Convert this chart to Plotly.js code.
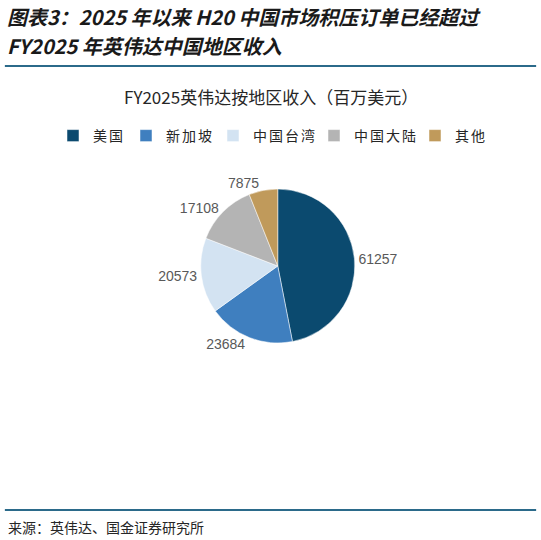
<!DOCTYPE html>
<html>
<head>
<meta charset="utf-8">
<script src="https://cdn.plot.ly/plotly-3.0.1.min.js"></script>
<style>
  html, body { margin: 0; padding: 0; background: #fff; }
  #chart { width: 541px; height: 540px; }
  #chart .legendtext { letter-spacing: 2px; }
</style>
</head>
<body>
<div id="chart"></div>
<script>
// regions and revenue (USD millions), clockwise from 12 o'clock
const regions = ["美国", "新加坡", "中国台湾", "中国大陆", "其他"];
const revenue = [61257, 23684, 20573, 17108, 7875];
const sliceColors = ["#0b4a6f", "#3f7fbf", "#d3e3f2", "#b4b4b4", "#c09a5b"];

const headerLine1 = "图表3：2025 年以来 H20 中国市场积压订单已经超过";
const headerLine2 = "FY2025 年英伟达中国地区收入";
const chartTitle = "FY2025英伟达按地区收入（百万美元）";
const sourceText = "来源：英伟达、国金证券研究所";

const cjk = '"Noto Sans CJK SC", "Liberation Sans", sans-serif';

const pieTrace = {
  type: "pie",
  labels: regions,
  values: revenue,
  sort: false,
  direction: "clockwise",
  rotation: 0,
  marker: { colors: sliceColors, line: { color: "#ffffff", width: 0.5 } },
  textinfo: "value",
  textposition: "outside",
  texttemplate: "%{value:d}",
  textfont: { family: '"Liberation Sans", Arial, sans-serif', size: 14, color: "#595959" },
  hoverinfo: "label+value+percent",
  domain: { x: [0.3706, 0.6562], y: [0.3648, 0.65] },
};

const layout = {
  width: 541,
  height: 540,
  margin: { l: 0, r: 0, t: 0, b: 0 },
  paper_bgcolor: "#ffffff",
  font: { family: cjk, color: "#262626" },
  showlegend: true,
  legend: {
    orientation: "h",
    x: 0.5,
    xanchor: "center",
    y: 1 - 136 / 540,
    yanchor: "middle",
    font: { family: cjk, size: 14, color: "#262626" },
    traceorder: "normal",
    itemwidth: 30,
  },
  annotations: [
    {
      text: "<b><i>" + headerLine1 + "</i></b>",
      xref: "paper", yref: "paper",
      x: 0.01, y: 1 - 17 / 540, xanchor: "left", yanchor: "middle",
      showarrow: false,
      font: { family: cjk, size: 20, color: "#1a1a1a" },
    },
    {
      text: "<b><i>" + headerLine2 + "</i></b>",
      xref: "paper", yref: "paper",
      x: 0.01, y: 1 - 46 / 540, xanchor: "left", yanchor: "middle",
      showarrow: false,
      font: { family: cjk, size: 20, color: "#1a1a1a" },
    },
    {
      text: chartTitle,
      xref: "paper", yref: "paper",
      x: 0.5, y: 1 - 97 / 540, xanchor: "center", yanchor: "middle",
      showarrow: false,
      font: { family: cjk, size: 17, color: "#262626" },
    },
    {
      text: sourceText,
      xref: "paper", yref: "paper",
      x: 0.012, y: 1 - 527 / 540, xanchor: "left", yanchor: "middle",
      showarrow: false,
      font: { family: cjk, size: 14, color: "#262626" },
    },
  ],
  shapes: [
    {
      type: "line", xref: "paper", yref: "paper",
      x0: 0.009, x1: 0.991, y0: 1 - 66 / 540, y1: 1 - 66 / 540,
      line: { color: "#2b6a8a", width: 2 },
    },
    {
      type: "line", xref: "paper", yref: "paper",
      x0: 0.009, x1: 0.991, y0: 1 - 510 / 540, y1: 1 - 510 / 540,
      line: { color: "#2b6a8a", width: 2 },
    },
  ],
};

const config = { displayModeBar: false, staticPlot: true };

Plotly.newPlot("chart", [pieTrace], layout, config);
</script>
</body>
</html>
